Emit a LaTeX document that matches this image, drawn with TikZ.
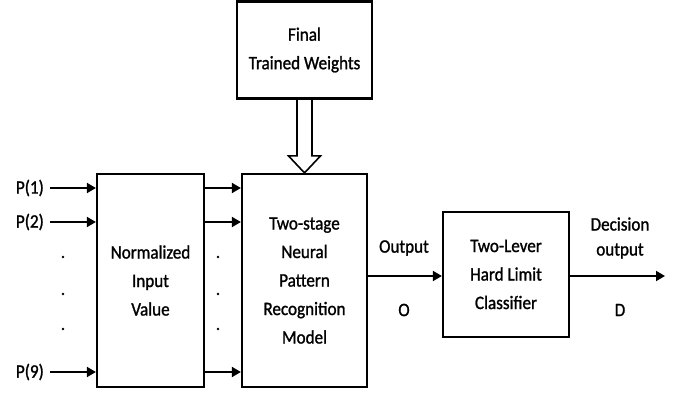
\documentclass[tikz,border=0pt]{standalone}
\usepackage{fontspec}
\setmainfont[FakeStretch=0.9,FakeBold=1.2]{Carlito}
\usetikzlibrary{arrows.meta,calc}
\begin{document}
\begin{tikzpicture}[x=1pt,y=-1pt,
  block/.style={draw,line width=2.2pt,rectangle,inner sep=0pt,align=center,
    font=\fontsize{19}{28.5}\selectfont},
  lbl/.style={inner sep=0pt,align=center,font=\fontsize{19}{25}\selectfont},
  flow/.style={line width=1.8pt,-{Triangle[length=9pt,width=10pt]}}]
\useasboundingbox (0,0) rectangle (683,394);

% main blocks
\node[block,minimum width=107pt,minimum height=213pt] (nv) at (150.5,280.5)
  {Normalized\\Input\\Value};
\node[block,minimum width=125pt,minimum height=213pt] (nn) at (304.5,280.5)
  {Two-stage\\Neural\\Pattern\\Recognition\\Model};
\node[block,minimum width=135pt,minimum height=97pt] (fw) at (304.5,50)
  {Final\\Trained Weights};
\node[block,minimum width=126pt,minimum height=125pt] (cl) at (506,274.5)
  {Two-Lever\\Hard Limit\\Classifier};

% inputs
\node[lbl,anchor=east] (p1) at (44,188) {P(1)};
\node[lbl,anchor=east] (p2) at (44,222) {P(2)};
\node[lbl,anchor=east] (p9) at (44,372) {P(9)};
\foreach \p in {p1,p2,p9}{
  \draw[flow] ($(\p.east)+(6,0)$) -- (nv.west |- \p);
  \draw[flow] (nv.east |- \p) -- (nn.west |- \p);
}

% ellipsis dots
\foreach \y in {257,294,329}{
  \fill (63,\y) circle (1.3pt);
  \fill (218,\y) circle (1.3pt);
}

% hollow arrow from the weights into the model
\draw[line width=1.6pt,line join=miter]
  ($(fw.south)+(-7.5,0)$) -- ($(nn.north)+(-7.5,-17)$) -- ($(nn.north)+(-16,-17)$)
  -- (nn.north) -- ($(nn.north)+(16,-17)$) -- ($(nn.north)+(7.5,-17)$)
  -- ($(fw.south)+(7.5,0)$);

% outputs
\draw[flow] (nn.east |- 0,276) -- (cl.west |- 0,276);
\coordinate (dend) at (665,276);
\draw[flow] (cl.east |- dend) -- (dend);

\node[lbl] (outl) at (404,248) {Output};
\node[lbl] (ol) at (404,310) {O};
\node[lbl] (dl) at (620,238) {Decision\\output};
\node[lbl] (dd) at (620,310) {D};
\end{tikzpicture}
\end{document}
